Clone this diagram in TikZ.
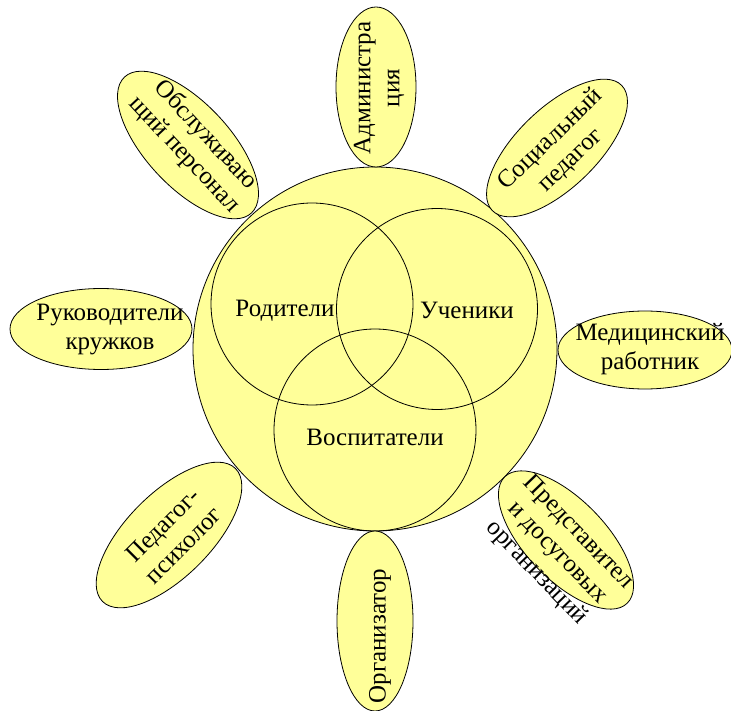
\documentclass[tikz,border=0pt]{standalone}
\usepackage{fontspec}
\setmainfont{Liberation Serif}
\usetikzlibrary{shapes.geometric}
\definecolor{sunyellow}{RGB}{255,255,153}

\begin{document}
\begin{tikzpicture}[
    x=1pt, y=-1pt,
    line width=0.8pt,
    font=\fontsize{25}{29}\selectfont,
    core/.style={circle, draw, inner sep=0pt},
    ray/.style={ellipse, draw, fill=sunyellow, inner sep=0pt},
    txt/.style={align=center, inner sep=0pt}
]
\useasboundingbox (0,0) rectangle (731,711);

% Sun
\node[core, fill=sunyellow, minimum size=364] (sun) at (375,349) {};
\node[core, minimum size=202] (par) at (312,304) {};
\node[core, minimum size=201] (pup) at (437,309) {};
\node[core, minimum size=202] (edu) at (375,430) {};
\node[txt] (tpar) at (285,311) {Родители};
\node[txt] (tpup) at (467,310) {Ученики};
\node[txt] (tedu) at (375,437) {Воспитатели};

% Rays
\node[ray, minimum width=160, minimum height=80, rotate=90] (adm) at (376,87) {};
\node[txt, rotate=90] (tadm) at (379,88) {Администра\\ция};

\node[ray, minimum width=180, minimum height=80, rotate=44] (soc) at (557,148) {};
\node[txt, rotate=44] (tsoc) at (561,150) {Социальный\\педагог};

\node[ray, minimum width=174, minimum height=78] (med) at (645,350) {};
\node[txt] (tmed) at (650,349) {Медицинский\\работник};

\node[ray, minimum width=176, minimum height=80, rotate=-46] (pred) at (566,540) {};
\node[txt, rotate=-46] (tpred) at (557,553) {Представител\\и досуговых\\организаций};

\node[ray, minimum width=180, minimum height=76, rotate=90] (org) at (375,621) {};
\node[txt, rotate=90] (torg) at (380,636) {Организатор};

\node[ray, minimum width=188, minimum height=84, rotate=45] (ped) at (169,535) {};
\node[txt, rotate=45] (tped) at (173,535) {Педагог-\\психолог};

\node[ray, minimum width=182, minimum height=81] (ruk) at (101,329) {};
\node[txt] (truk) at (110,330) {Руководители\\кружков};

\node[ray, minimum width=186, minimum height=84, rotate=-47] (obsl) at (188,145) {};
\node[txt, rotate=-47] (tobsl) at (195,145) {Обслуживаю\\щий персонал};

\end{tikzpicture}
\end{document}
